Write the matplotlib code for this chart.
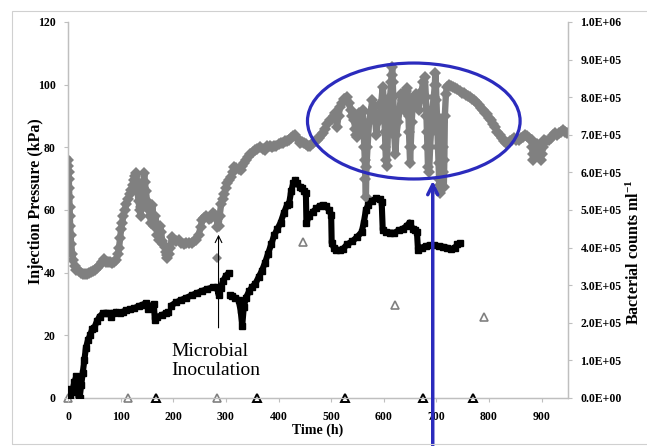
import numpy as np
import matplotlib
matplotlib.use("Agg")
import matplotlib.pyplot as plt
from matplotlib.patches import Ellipse, Rectangle
from matplotlib.ticker import FuncFormatter, MultipleLocator

plt.rcParams['font.family'] = ['Liberation Serif', 'DejaVu Serif']
plt.rcParams['mathtext.fontset'] = 'custom'
plt.rcParams['mathtext.rm'] = 'Liberation Serif:bold'
plt.rcParams['mathtext.it'] = 'Liberation Serif:bold'

nan = np.nan

# Injection pressure series 1 (black squares): (time h, kPa); nan = gap
black_points = [
    (0, 3), (4, 1), (8, 2), (12, 5), (16, 7), (18, 5), (20, 0), (22, 0), (25, 4), (28, 8), (31, 12),
    (34, 16), (38, 18.5), (42, 20), (46, 22), (50, 22.5), (55, 24.5), (60, 26), (66, 27), (72, 27.2),
    (78, 27), (82, 26), (86, 27), (92, 27.5), (98, 27), (104, 27.5), (110, 28), (118, 28.3), (126, 28.7),
    (134, 29.3), (142, 29.8), (148, 30.3), (152, 28.5), (158, 29.5), (163, 30), (165, 25), (170, 25.8),
    (178, 26.5), (186, 27), (190, 27.5), (nan, nan),
    (196, 29.5), (205, 30.5), (215, 31.3), (225, 32), (235, 32.8), (245, 33.5), (255, 34.2), (265, 34.8),
    (275, 35.3), (283, 35.4), (286, 33), (290, 35), (295, 37.5), (300, 39), (306, 40), (nan, nan),
    (307, 33), (312, 32.5), (318, 32), (324, 31.3), (328, 28), (331, 23), (334, 29), (338, 32), (344, 34),
    (350, 35.5), (356, 36.5), (362, 38.5), (368, 40.5), (374, 43), (380, 46), (386, 49), (392, 52),
    (398, 54), (404, 56), (410, 59), (416, 61.5), (420, 62), (424, 66), (428, 68.5), (432, 69.6),
    (436, 68.5), (440, 67.5), (444, 67), (448, 66), (nan, nan),
    (452, 65.4), (453, 56), (458, 58), (465, 59.4), (472, 60.5), (478, 61.3), (484, 61.6), (490, 61.2),
    (496, 60), (500, 58.5), (501, 49.5), (505, 48), (510, 47.3), (516, 47.2), (522, 47.5), (530, 49),
    (540, 50), (550, 51.5), (558, 53), (562, 56), (566, 60), (570, 61.5), (578, 63), (586, 63.8),
    (592, 63.5), (596, 62.6), (598, 53.6), (605, 53), (612, 52.8), (620, 52.7), (628, 53.5), (636, 54),
    (644, 55), (649, 56), (655, 54), (660, 53.6), (663, 53), (665, 47.2), (672, 48), (680, 48.5),
    (688, 48.8), (696, 48.7), (704, 48.5), (712, 48.3), (720, 48), (728, 47.5), (735, 48), (740, 49),
    (745, 49.5),
]

# Injection pressure series 2 (grey diamonds): (time h, kPa)
grey_points = [
    (0, 76), (0.5, 74), (1, 72), (1.5, 70), (2, 67), (2.5, 64), (3, 61), (3.5, 58), (4, 55), (5, 52),
    (6, 49), (8, 46), (10, 44), (13, 42), (16, 41), (20, 40.5), (24, 40), (28, 39.5), (32, 39.5),
    (36, 39.5), (40, 39.8), (44, 40.2), (48, 40.5), (52, 41), (56, 41.5), (60, 42.5), (64, 43.5),
    (68, 44.5), (72, 43.5), (76, 43.5), (80, 43.5), (84, 43), (88, 43.5), (92, 44), (95, 46), (97, 48),
    (99, 51), (101, 54), (103, 56), (105, 58), (108, 60), (111, 62), (114, 63.5), (117, 65), (120, 66.5),
    (123, 68), (126, 69.5), (128, 71), (130, 71.8), (131, 69), (132, 66), (134, 63), (136, 60), (138, 58),
    (139, 61), (141, 64), (142, 67), (143, 69), (145, 71.8), (146, 69), (148, 66), (150, 63), (152, 61),
    (154, 60), (156, 58), (158, 56), (160, 61.6), (162, 58), (164, 55), (166, 58), (168, 55), (170, 52),
    (173, 50.4), (175, 55), (177, 53), (179, 50), (181, 49), (184, 48.2), (186, 46.5), (188, 45.5),
    (189, 44.7), (191, 46), (194, 48), (198, 51.4), (202, 50.5), (206, 50), (211, 50.4), (215, 49.5),
    (220, 49), (225, 49.5), (230, 49.5), (235, 49.5), (240, 50), (244, 50.4), (248, 52), (252, 54.5),
    (255, 56.8), (259, 57.5), (263, 58), (268, 57), (272, 57.5), (276, 59), (280, 58.5), (283, 57),
    (284, 54.6), (286, 55), (288, 58), (291, 62), (294, 63.5), (297, 65), (300, 67), (303, 68.5),
    (306, 69.6), (310, 70.5), (313, 72), (316, 73.7), (320, 73.5), (324, 73), (328, 72.8), (331, 74),
    (335, 75), (338, 76), (342, 77), (346, 78), (351, 78.5), (355, 79), (360, 79.5), (365, 80),
    (370, 79.5), (374, 79), (378, 80.5), (383, 80.5), (387, 80), (392, 80.5), (396, 80.5), (400, 81),
    (404, 81.4), (408, 81.5), (412, 82), (416, 82), (420, 82.5), (424, 83), (428, 83.5), (432, 84),
    (436, 83), (440, 81.5), (444, 81.7), (448, 81.5), (452, 81), (456, 80.5), (460, 80.5), (465, 81.4),
    (469, 82), (473, 82.5), (477, 83), (481, 84), (485, 84.6), (489, 86), (493, 87.5), (497, 88.7),
    (501, 89), (505, 90), (508, 91), (511, 86.5), (514, 90), (517, 92.9), (520, 94), (524, 95.5),
    (527, 95.5), (531, 96), (534, 94), (537, 92), (540, 90), (543, 88.7), (546, 86), (548, 84),
    (550, 83.3), (552, 91), (555, 90), (558, 86), (560, 92), (561, 88), (562, 84), (563, 80), (564, 76),
    (565, 70), (566, 64), (567, 73.7), (569, 80), (572, 88), (575, 91), (578, 95), (581, 93), (583, 90),
    (586, 84), (589, 90), (592, 88.7), (595, 94), (598, 99.3), (600, 95), (601, 90), (602, 85), (603, 80),
    (604, 76), (606, 74), (608, 86), (610, 92), (612, 96), (614, 101), (615, 103), (616, 105.6),
    (617, 101), (618, 96), (619, 90), (620, 84), (622, 78), (624, 84), (627, 88), (630, 92), (633, 97),
    (636, 95), (638, 92), (640, 94), (643, 98), (645, 99), (646, 94), (647, 90), (648, 85), (649, 80),
    (650, 75), (651, 80), (653, 88), (655, 94), (658, 96), (661, 97), (664, 95), (666, 92), (669, 95),
    (672, 98), (675, 101), (678, 102.5), (680, 96), (681, 90), (682, 85), (683, 80), (684, 73.7),
    (686, 72), (688, 80), (690, 86), (692, 92), (695, 96), (697, 100), (698, 103.7), (699, 100),
    (700, 95), (701, 90), (702, 85), (703, 80), (704, 75), (705, 70), (706, 65.4), (707, 68), (709, 75),
    (711, 88), (712, 80), (713, 72), (714, 67.3), (715, 76), (716, 90), (718, 97), (720, 99.3),
    (724, 100), (728, 99.5), (732, 99.3), (736, 98.8), (740, 98.5), (744, 98), (748, 97.5), (752, 97.3),
    (756, 96.8), (760, 96.5), (764, 96), (768, 95.5), (772, 95), (776, 94.5), (780, 93.5), (784, 92.5),
    (788, 92), (792, 91), (796, 90.5), (800, 89.5), (804, 88.7), (808, 87.5), (812, 86.5), (816, 85),
    (820, 84), (824, 83), (828, 82), (832, 81.4), (836, 81.5), (840, 82), (844, 82.5), (848, 83),
    (852, 82.5), (856, 82.5), (860, 83), (864, 83.3), (868, 84), (872, 83.5), (876, 83), (879, 82.5),
    (881, 82.5), (882, 80), (883, 78), (884, 76), (886, 78), (888, 80), (892, 81), (896, 79), (898, 76),
    (900, 78), (902, 80), (905, 82.3), (909, 82), (913, 82.5), (917, 83), (921, 84), (925, 84.6),
    (929, 84), (933, 84.5), (937, 85), (941, 85.5), (945, 85), (948, 84.6),
]
# isolated grey reading below the band
grey_outlier_t = [284]
grey_outlier_p = [44.7]

# Bacterial counts (cells/ml), two sets of hollow triangles
tri_grey_t = [0, 114, 284, 446, 621, 790]
tri_grey_c = [0, 0, 0, 4.15e5, 2.47e5, 2.16e5]
tri_black_t = [168, 360, 527, 674, 769]
tri_black_c = [0, 0, 0, 0, 0]

black_t, black_p = zip(*black_points)
grey_t, grey_p = zip(*grey_points)

W, H = 647, 446
fig = plt.figure(figsize=(W / 100, H / 100), dpi=100)
fig.patches.append(Rectangle((12 / W, 2 / H), 1.0, 1 - 13 / H, transform=fig.transFigure,
                             fill=False, edgecolor='#d0d0d0', lw=0.8))

ax = fig.add_axes([68 / W, (H - 398) / H, (568 - 68) / W, (398 - 22) / H])
ax2 = ax.twinx()
ax.set_zorder(ax2.get_zorder() + 1)
ax.patch.set_visible(False)

grey = '#808080'
spine_c = '#bfbfbf'

ax.plot(grey_t, grey_p, linestyle='-', lw=4.6, marker='D', markersize=6, color=grey,
        markeredgewidth=0, solid_joinstyle='round', zorder=2)
ax.plot(grey_outlier_t, grey_outlier_p, linestyle='none', marker='D', markersize=5.5, color=grey,
        markeredgewidth=0, zorder=2)
ax.plot(black_t, black_p, linestyle='-', lw=4.4, color='black', marker='s', markersize=3.8,
        solid_capstyle='butt', zorder=3)

ax2.plot(tri_grey_t, tri_grey_c, linestyle='none', marker='^', markersize=5.5, markerfacecolor='white',
         markeredgecolor=grey, markeredgewidth=1.2, clip_on=False, zorder=4)
ax2.plot(tri_black_t, tri_black_c, linestyle='none', marker='^', markersize=5.5, markerfacecolor='white',
         markeredgecolor='black', markeredgewidth=1.4, clip_on=False, zorder=4)

ax.set_xlim(0, 950)
ax.set_ylim(0, 120)
ax2.set_ylim(0, 1.0e6)
ax.xaxis.set_major_locator(MultipleLocator(100))
ax.yaxis.set_major_locator(MultipleLocator(20))
ax2.yaxis.set_major_locator(MultipleLocator(1e5))
ax2.yaxis.set_major_formatter(FuncFormatter(lambda v, p: '%.1E' % v))

for a in (ax, ax2):
    for s in a.spines.values():
        s.set_color(spine_c)
        s.set_linewidth(0.9)
    a.spines['top'].set_visible(False)

ax.tick_params(axis='both', direction='out', length=3, color=spine_c, labelsize=8.5, pad=6)
ax2.tick_params(axis='y', direction='out', length=3, color=spine_c, labelsize=8.5, pad=6)
for lab in ax.get_xticklabels() + ax.get_yticklabels() + ax2.get_yticklabels():
    lab.set_fontweight('bold')

ax.set_xlabel('Time (h)', fontsize=10, fontweight='bold', labelpad=1)
fig.text(36 / W, 1 - 201 / H, 'Injection Pressure (kPa)', rotation=90, fontsize=11.5,
         fontweight='bold', ha='center', va='center')
fig.text(634 / W, 1 - 252 / H, r'Bacterial counts ml$^{-1}$', rotation=90, fontsize=11.5,
         fontweight='bold', ha='center', va='center')

blue = '#2b2bbd'
ax.add_patch(Ellipse((657, 88.4), 404, 37, fill=False, edgecolor=blue, lw=2.3, zorder=5))
ax.annotate('', xy=(693, 70.2), xytext=(693, -16),
            arrowprops=dict(arrowstyle='->', color=blue, lw=2.5, mutation_scale=18),
            annotation_clip=False, zorder=6)

ax.annotate('', xy=(286, 53), xytext=(286, 21.5),
            arrowprops=dict(arrowstyle='->', color='black', lw=0.8, mutation_scale=12),
            zorder=6)
ax.text(196, 17.5, 'Microbial\nInoculation', fontsize=14, ha='left', va='top', linespacing=1.15,
        zorder=6)

fig.savefig('out.png', dpi=100)
